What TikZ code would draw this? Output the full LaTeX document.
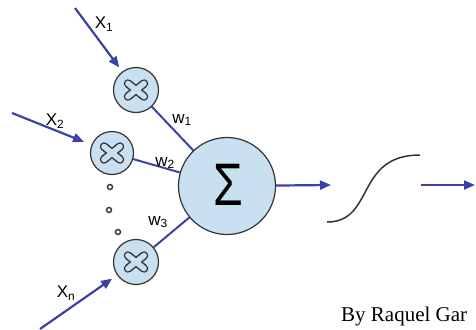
\documentclass[tikz,border=0pt]{standalone}
\usepackage{fontspec}
\setmainfont{Liberation Serif}
\newfontfamily\labelfont{Liberation Sans}
\usepackage{tikz}
\usetikzlibrary{arrows.meta, positioning, calc}
\definecolor{myblue}{RGB}{60,66,165}
\definecolor{mydark}{RGB}{50,50,55}
\definecolor{cellfill}{RGB}{200,224,240}
\tikzset{
  mulnode/.style={circle, draw=mydark, fill=cellfill, minimum size=45pt,
    inner sep=0pt, line width=1.2pt},
  sumnode/.style={circle, draw=mydark, fill=cellfill, minimum size=97pt,
    inner sep=0pt, line width=1.2pt},
  dotnode/.style={circle, draw=mydark, fill=white, minimum size=5pt,
    inner sep=0pt, line width=1.4pt},
  inarrow/.style={-{Triangle[length=11pt,width=9pt]}, line width=2.2pt,
    color=myblue, shorten >=5pt},
  wline/.style={line width=2pt, color=myblue},
  lbl/.style={font=\labelfont\fontsize{17}{17}\selectfont, text=black}
}
% outlined cross inside a multiplier node
\newcommand{\mulcross}[1]{%
  \draw[line width=8.5pt, line cap=round, mydark]
    ($(#1)+(-8,-6.5)$) -- ($(#1)+(8,6.5)$) ($(#1)+(-8,6.5)$) -- ($(#1)+(8,-6.5)$);
  \draw[line width=5.6pt, line cap=round, cellfill]
    ($(#1)+(-8,-6.5)$) -- ($(#1)+(8,6.5)$) ($(#1)+(-8,6.5)$) -- ($(#1)+(8,-6.5)$);
}

\begin{document}
\begin{tikzpicture}[x=1pt, y=-1pt]
  \useasboundingbox (0,0) rectangle (476,329);

  % Multiplier nodes and summation
  \node[mulnode] (m1) at (136,90) {};
  \node[mulnode, minimum size=43pt] (m2) at (112,153) {};
  \node[mulnode] (mn) at (136,262) {};
  \node[sumnode] (sum) at (227,186) {};
  \node[font=\labelfont\fontsize{60}{60}\selectfont, xscale=0.8] (sig) at (228,185) {Σ};
  \mulcross{m1}
  \mulcross{m2}
  \mulcross{mn}

  % Dots between the inputs
  \node[dotnode] (d1) at (110,187) {};
  \node[dotnode] (d2) at (109,210) {};
  \node[dotnode] (d3) at (118,232) {};

  % Input arrows
  \coordinate (x1in) at (75,8);
  \coordinate (x2in) at (12,113);
  \coordinate (xnin) at (40,329);
  \draw[inarrow] (x1in) -- (m1);
  \draw[inarrow, shorten >=8pt] (x2in) -- (m2);
  \draw[inarrow, shorten >=6pt] (xnin) -- (mn);
  \node[lbl] (lx1) at (104,24) {X\textsubscript{1}};
  \node[lbl] (lx2) at (55,121) {X\textsubscript{2}};
  \node[lbl] (lxn) at (66,293) {X\textsubscript{n}};

  % Weights
  \draw[wline] (m1) -- (sum);
  \draw[wline] (m2) -- (sum);
  \draw[wline] (mn) -- (sum);
  \node[lbl] (lw1) at (182,120) {w\textsubscript{1}};
  \node[lbl] (lw2) at (165,163) {w\textsubscript{2}};
  \node[lbl] (lw3) at (158,222) {w\textsubscript{3}};

  % Activation and output
  \coordinate (actin) at (331,185);
  \coordinate (actout) at (421,185);
  \coordinate (out) at (475,185);
  \draw[inarrow, shorten >=0pt] (sum) -- (actin);
  \draw[line width=1.5pt, mydark] (327,222) .. controls (375,222) and (355,155) .. (420,155);
  \draw[inarrow, shorten >=0pt] (actout) -- (out);

  % Credit
  \node[anchor=base west, inner sep=0pt, font=\fontsize{21}{21}\selectfont] (credit) at (341,321) {By Raquel Gar};
\end{tikzpicture}
\end{document}
